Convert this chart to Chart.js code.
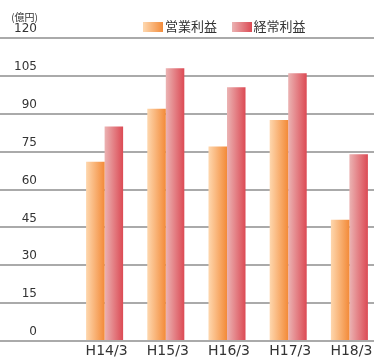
<!DOCTYPE html>
<html>
<head>
<meta charset="utf-8">
<script src="https://cdn.jsdelivr.net/npm/chart.js@4.4.0/dist/chart.umd.min.js"></script>
<style>
  html, body { margin: 0; padding: 0; background: #fff; overflow: hidden; }
  #wrap { position: relative; width: 380px; height: 359px; }
</style>
</head>
<body>
<div id="wrap"><canvas id="myCanvas"></canvas></div>
<script>
// 決算期
var labels = ['H14/3', 'H15/3', 'H16/3', 'H17/3', 'H18/3'];
// 億円
var eigyou = [71, 92, 77, 87.5, 48];      // 営業利益
var keijou = [85, 108, 100.5, 106, 74];   // 経常利益
var yTicks = [0, 15, 30, 45, 60, 75, 90, 105, 120];

var orangeStops = ['#fed7ae', '#f38a38'];
var redStops = ['#ebb3b3', '#dc4a54'];

var canvas = document.getElementById('myCanvas');
var context = canvas.getContext('2d');

// small gradient swatch used as the legend marker
function swatch(stops) {
    var c = document.createElement('canvas');
    c.width = 20;
    c.height = 10;
    var g = c.getContext('2d');
    var grad = g.createLinearGradient(0, 0, 20, 0);
    grad.addColorStop(0, stops[0]);
    grad.addColorStop(1, stops[1]);
    g.fillStyle = grad;
    g.fillRect(0, 0, 20, 10);
    return c;
}
var swatches = [swatch(orangeStops), swatch(redStops)];

// horizontal gradient across each bar, light on the left
var barGradients = {
    id: 'barGradients',
    beforeDatasetsDraw: function(chart) {
        var ctx = chart.ctx;
        chart.data.datasets.forEach(function(ds, i) {
            chart.getDatasetMeta(i).data.forEach(function(bar) {
                var g = ctx.createLinearGradient(bar.x - bar.width / 2, 0, bar.x + bar.width / 2, 0);
                g.addColorStop(0, ds.stops[0]);
                g.addColorStop(1, ds.stops[1]);
                bar.options = Object.assign({}, bar.options, { backgroundColor: g });
            });
        });
    }
};

// unit caption above the value labels
var unitLabel = {
    id: 'unitLabel',
    afterDraw: function(chart) {
        var ctx = chart.ctx;
        ctx.save();
        ctx.font = '10px "Noto Sans CJK JP"';
        ctx.fillStyle = '#333';
        ctx.textAlign = 'right';
        ctx.textBaseline = 'middle';
        ctx.fillText('(億円)', 38, 17);
        ctx.restore();
    }
};

var myChart = new Chart(context, {
    type: 'bar',
    data: {
        labels: labels,
        datasets: [{
            label: '営業利益',
            data: eigyou,
            stops: orangeStops,
            backgroundColor: function() { return orangeStops[1]; },
            borderWidth: 0,
            categoryPercentage: 0.605,
            barPercentage: 1.0
        }, {
            label: '経常利益',
            data: keijou,
            stops: redStops,
            backgroundColor: function() { return redStops[1]; },
            borderWidth: 0,
            categoryPercentage: 0.605,
            barPercentage: 1.0
        }]
    },
    options: {
        responsive: true,
        maintainAspectRatio: false,
        animation: false,
        layout: { padding: 0 },
        plugins: {
            tooltip: { enabled: false },
            legend: {
                position: 'top',
                fullSize: false,
                maxHeight: 38,
                labels: {
                    font: { family: '"Noto Sans CJK JP"', size: 13 },
                    color: '#333',
                    usePointStyle: true,
                    pointStyleWidth: 10,
                    boxHeight: 10,
                    padding: 20,
                    generateLabels: function(chart) {
                        var items = Chart.defaults.plugins.legend.labels.generateLabels(chart);
                        items.forEach(function(it, i) { it.pointStyle = swatches[i]; });
                        return items;
                    }
                }
            }
        },
        scales: {
            x: {
                grid: { display: false, drawTicks: false },
                border: { display: false },
                ticks: {
                    color: '#333',
                    font: { family: 'DejaVu Sans', size: 14 },
                    padding: 2,
                    labelOffset: 2,
                    maxRotation: 0,
                    autoSkip: false
                },
                afterFit: function(scale) { scale.height = 18; }
            },
            y: {
                min: 0,
                max: 120,
                afterBuildTicks: function(scale) {
                    scale.ticks = yTicks.map(function(v) { return { value: v }; });
                },
                ticks: {
                    color: '#333',
                    font: { family: 'DejaVu Sans', size: 12 },
                    padding: -37,
                    labelOffset: -9
                },
                grid: { color: '#aaaaaa', lineWidth: 2, tickLength: 74, drawTicks: true },
                border: { display: false },
                afterFit: function(scale) { scale.width = 74; }
            }
        }
    },
    plugins: [barGradients, unitLabel]
});
</script>
</body>
</html>
